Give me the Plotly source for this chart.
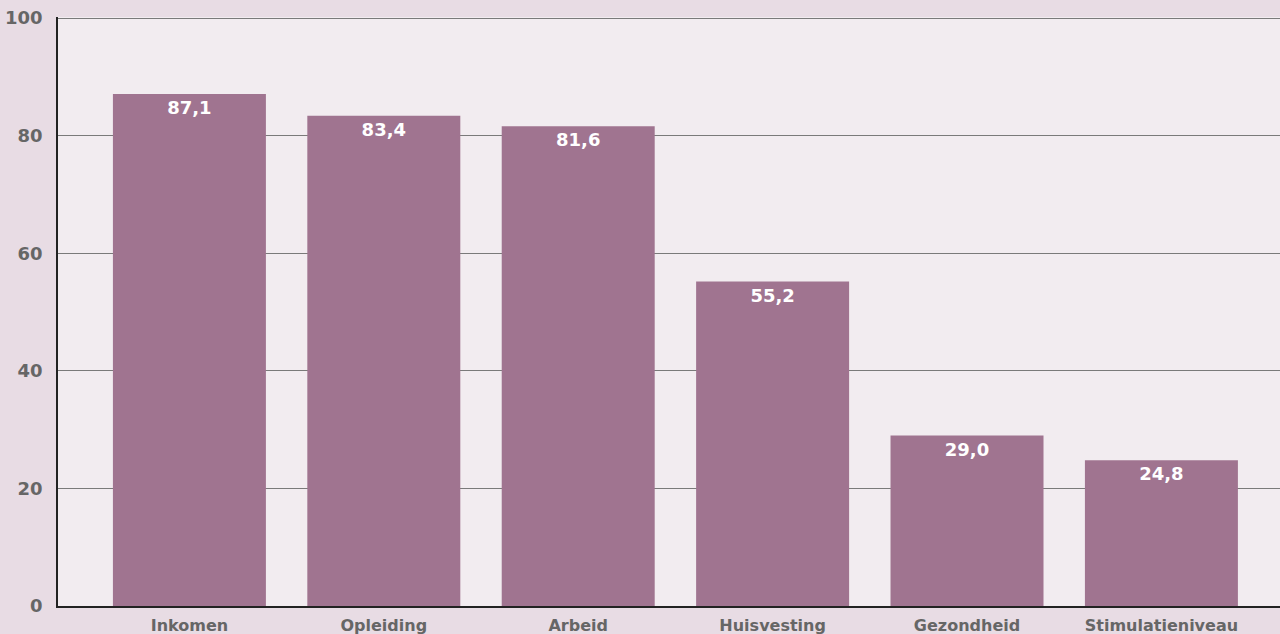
import plotly.graph_objects as go

categories = ["Inkomen", "Opleiding", "Arbeid", "Huisvesting", "Gezondheid", "Stimulatieniveau"]
values = [87.1, 83.4, 81.6, 55.2, 29.0, 24.8]
labels = ["87,1", "83,4", "81,6", "55,2", "29,0", "24,8"]
y_ticks = [0, 20, 40, 60, 80, 100]

FONT = "DejaVu Sans"

fig = go.Figure(go.Bar(
    x=categories, y=values, text=labels,
    textposition="inside", insidetextanchor="end",
    textfont=dict(family=FONT, size=18, color="white", weight="bold"),
    marker=dict(color="#a07490", line=dict(width=0)),
    width=0.787, cliponaxis=False,
))

fig.update_layout(
    width=1280, height=634,
    margin=dict(l=58, r=0, t=17, b=28),
    paper_bgcolor="#e8dce4",
    plot_bgcolor="#f2ecf0",
    showlegend=False,
    font=dict(family=FONT, color="#666666"),
)
fig.update_xaxes(
    range=[-0.676, 5.61], showgrid=False, showline=True, linecolor="#222222", linewidth=1.5,
    tickfont=dict(family=FONT, size=16, color="#666666", weight="bold"), ticks="", ticklabelstandoff=4,
)
fig.update_yaxes(
    range=[0, 100.2], tickvals=y_ticks, showgrid=True, gridcolor="#7a7a7a", gridwidth=1,
    showline=True, linecolor="#222222", linewidth=1.5, zeroline=False,
    tickfont=dict(family=FONT, size=18, color="#666666", weight="bold"), ticks="", ticklabelstandoff=10,
)
fig.write_html("out.html", config={"displayModeBar": False},
               post_script="document.body.style.margin='0';document.body.style.overflow='hidden';")
